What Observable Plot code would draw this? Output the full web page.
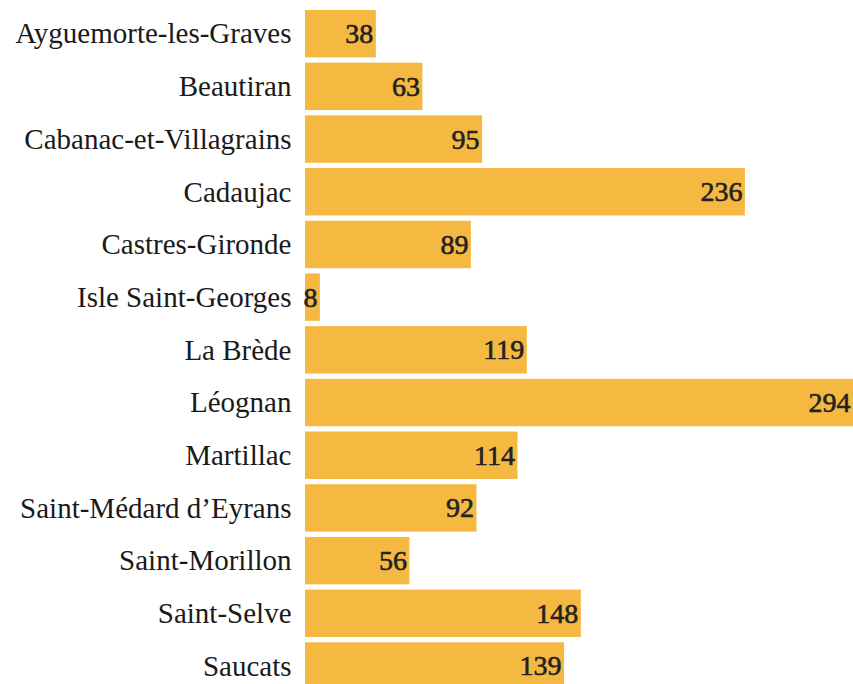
<!DOCTYPE html>
<html>
<head>
<meta charset="utf-8">
<script src="https://cdn.jsdelivr.net/npm/d3@7"></script>
<script src="https://cdn.jsdelivr.net/npm/@observablehq/plot@0.6"></script>
<style>
  html, body { margin: 0; padding: 0; background: #fff; overflow: hidden; }
</style>
</head>
<body>
<div id="chart"></div>
<script>
const communes = [
  "Ayguemorte-les-Graves", "Beautiran", "Cabanac-et-Villagrains", "Cadaujac",
  "Castres-Gironde", "Isle Saint-Georges", "La Brède", "Léognan", "Martillac",
  "Saint-Médard d’Eyrans", "Saint-Morillon", "Saint-Selve", "Saucats"
];
const counts = [38, 63, 95, 236, 89, 8, 119, 294, 114, 92, 56, 148, 139];

const data = communes.map((c, i) => ({commune: c, count: counts[i]}));
const fontFamily = "'Liberation Serif', 'DejaVu Serif', serif";

const chart = Plot.plot({
  width: 853,
  height: 684,
  marginLeft: 305,
  marginRight: 0,
  marginTop: 0,
  marginBottom: 0,
  style: {fontFamily, fontSize: "29px", color: "#1a1a1a", background: "#fff", overflow: "hidden"},
  x: {axis: null, domain: [0, 294]},
  y: {domain: communes, range: [4.7, 695], padding: 0.1, round: false, label: null, tickSize: 0, tickPadding: 14},
  marks: [
    Plot.barX(data, {y: "commune", x: "count", fill: "#f5b942"}),
    Plot.text(data, {
      y: "commune", x: "count", text: d => String(d.count),
      textAnchor: "end", dx: -3, fill: "#222", stroke: "#222", strokeWidth: 0.6,
      fontSize: 28, fontFamily
    })
  ]
});
document.getElementById("chart").appendChild(chart);
</script>
</body>
</html>
